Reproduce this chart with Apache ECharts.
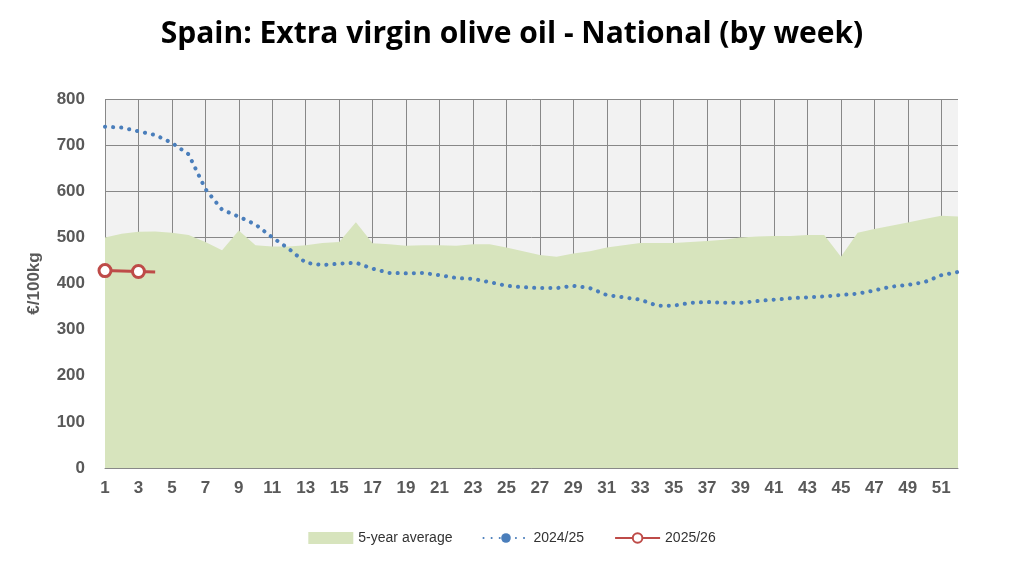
<!DOCTYPE html><html><head><meta charset="utf-8"><script src="https://cdn.jsdelivr.net/npm/echarts@6/dist/echarts.min.js"></script></head><body style="margin:0"><div id="c" style="width:1024px;height:568px"></div><script>
var weeks=[];for(var i=1;i<=52;i++)weeks.push(String(i));
var avg5=[500,508,512,513,510,505,490,472,515,483,480,480,483,488,490,533,487,485,482,483,483,482,485,485,478,470,462,458,465,470,478,483,488,488,488,490,492,495,500,502,503,503,505,505,458,510,518,525,532,540,547,545];
var s2425=[740,738,730,722,705,680,605,560,545,528,500,475,445,440,443,445,432,423,422,423,418,412,410,403,395,392,390,390,395,390,375,370,365,352,352,358,360,358,358,362,365,368,370,372,375,378,385,393,397,403,418,425];
var s2526=[428,427,426,425];
var ch=echarts.init(document.getElementById('c'));
var lab={color:'#595959',fontWeight:'bold',fontSize:17,fontFamily:'Liberation Sans'};
ch.setOption({
title:{text:'Spain: Extra virgin olive oil - National (by week)',left:'center',top:14,textStyle:{fontFamily:'Open Sans',fontWeight:'bold',fontSize:30,color:'#000'}},
grid:{left:105,right:66,top:99,bottom:100,backgroundColor:'#f2f2f2',show:true,borderWidth:0},
legend:{bottom:18,itemGap:30,textStyle:{fontSize:14,color:'#333',fontFamily:'Liberation Sans'},data:[{name:'5-year average',icon:'rect'},{name:'2024/25'},{name:'2025/26'}],itemWidth:45,itemHeight:12},
xAxis:{type:'category',data:weeks,boundaryGap:false,axisLabel:Object.assign({interval:1,margin:12},lab),axisTick:{show:false},axisLine:{lineStyle:{color:'#888'}},splitLine:{show:true,lineStyle:{color:'#888',width:1}}},
yAxis:{type:'value',min:0,max:800,interval:100,name:'€/100kg',nameLocation:'middle',nameGap:62,nameTextStyle:lab,axisLabel:Object.assign({margin:20},lab),splitLine:{lineStyle:{color:'#888'}},axisLine:{show:false}},
series:[
{name:'5-year average',type:'line',data:avg5,symbol:'none',lineStyle:{width:0},areaStyle:{color:'#d7e4bd',opacity:1},itemStyle:{color:'#d7e4bd'}},
{name:'2024/25',type:'line',data:s2425,symbol:'none',lineStyle:{color:'#4a7ebb',width:4,type:[0.1,8],cap:'round'},itemStyle:{color:'#4a7ebb'}},
{name:'2025/26',type:'line',data:s2526,symbol:'circle',symbolSize:12,lineStyle:{color:'#be4b48',width:3},itemStyle:{color:'#fff',borderColor:'#be4b48',borderWidth:3}}
]});
</script></body></html>
